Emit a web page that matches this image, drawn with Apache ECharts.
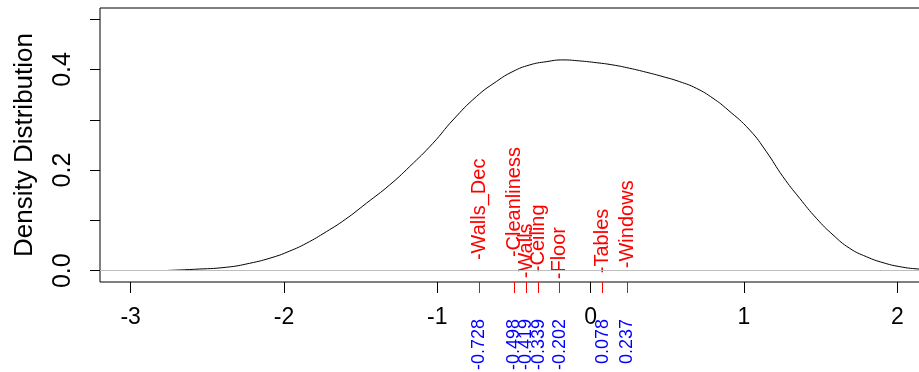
<!DOCTYPE html>
<html>
<head>
<meta charset="utf-8">
<script src="https://cdn.jsdelivr.net/npm/echarts@6/dist/echarts.min.js"></script>
<style>html,body{margin:0;padding:0;background:#fff}#c{width:919px;height:372px}</style>
</head>
<body>
<div id="c"></div>
<script>
// Density curve (x, density)
const densX = [-2.76, -2.583, -2.376, -2.224, -2.072, -1.963, -1.855, -1.724, -1.6, -1.463, -1.311, -1.181, -1.029, -0.898, -0.746, -0.615, -0.507, -0.398, -0.289, -0.181, -0.072, 0.037, 0.145, 0.254, 0.363, 0.472, 0.581, 0.689, 0.798, 0.896, 1.037, 1.146, 1.254, 1.363, 1.472, 1.581, 1.689, 1.798, 1.907, 2.016, 2.135, 2.3];
const densY = [0.0005, 0.0028, 0.0068, 0.0147, 0.0267, 0.039, 0.0543, 0.0775, 0.102, 0.134, 0.1704, 0.2068, 0.2532, 0.2996, 0.3459, 0.376, 0.396, 0.409, 0.4155, 0.419, 0.417, 0.4135, 0.409, 0.4024, 0.3945, 0.3857, 0.3757, 0.3626, 0.3427, 0.3194, 0.2797, 0.2366, 0.1869, 0.1439, 0.1042, 0.071, 0.0445, 0.0278, 0.0159, 0.008, 0.0034, 0.001];

// Annotated items
const itemNames = ['Walls_Dec', 'Cleanliness', 'Walls', 'Ceiling', 'Floor', 'Tables', 'Windows'];
const itemValues = [-0.728, -0.498, -0.419, -0.339, -0.202, 0.078, 0.237];
const itemLabelY = [0.021, 0.027, -0.015, -0.003, -0.017, -0.005, 0.005];

// Axis ticks
const xTicks = [-3, -2, -1, 0, 1, 2];
const yTicks = [0, 0.1, 0.2, 0.3, 0.4, 0.5];
const yLabels = [0, 0.2, 0.4];

const xMin = -3.2, xMax = 2.35, yMin = -0.0225, yMax = 0.5222;
const FONT = '"Liberation Sans", Arial, Helvetica, sans-serif';

const chart = echarts.init(document.getElementById('c'), null, {renderer: 'canvas'});
chart.setOption({
  animation: false,
  backgroundColor: '#fff',
  grid: {left: 100, right: -32, top: 8, bottom: 90, show: true, borderColor: '#000', borderWidth: 1, containLabel: false, outerBoundsMode: 'none'},
  xAxis: [{
    type: 'value', min: xMin, max: xMax, position: 'bottom',
    axisLine: {show: false, onZero: false},
    splitLine: {show: false},
    axisTick: {show: true, length: 11, inside: false, customValues: xTicks, lineStyle: {color: '#000', width: 1}},
    axisLabel: {customValues: xTicks, fontSize: 23, color: '#000', margin: 24, fontFamily: FONT, formatter: v => String(v)}
  }, {
    type: 'value', min: xMin, max: xMax, position: 'bottom',
    axisLine: {show: false, onZero: false},
    splitLine: {show: false},
    axisTick: {show: true, length: 11, inside: false, customValues: itemValues, lineStyle: {color: '#ff0000', width: 1}},
    axisLabel: {customValues: itemValues, rotate: 90, fontSize: 18, color: '#0000ff', margin: 37, fontFamily: FONT, hideOverlap: false, formatter: v => String(v)}
  }],
  yAxis: {
    type: 'value', min: yMin, max: yMax, position: 'left',
    name: 'Density Distribution', nameLocation: 'middle', nameGap: 62,
    nameTextStyle: {fontSize: 26, color: '#000', fontFamily: FONT},
    axisLine: {show: false, onZero: false},
    splitLine: {show: false},
    axisTick: {show: true, length: 10, customValues: yTicks, lineStyle: {color: '#000', width: 1}},
    axisLabel: {customValues: yLabels, rotate: 90, fontSize: 25, color: '#000', margin: 24, fontFamily: FONT, formatter: v => v.toFixed(1)}
  },
  series: [{
    type: 'line',
    xAxisIndex: 0,
    data: densX.map((x, i) => [x, densY[i]]),
    showSymbol: false,
    smooth: 0.5,
    lineStyle: {color: '#000', width: 1},
    silent: true,
    markLine: {
      silent: true, symbol: ['none', 'none'], label: {show: false},
      lineStyle: {color: '#bebebe', type: 'solid', width: 1},
      data: [{yAxis: 0}]
    }
  }, {
    type: 'custom',
    xAxisIndex: 0,
    clip: false,
    silent: true,
    data: itemValues.map((v, i) => [v, itemLabelY[i]]),
    renderItem: function (params, api) {
      const p = api.coord([api.value(0), api.value(1)]);
      return {
        type: 'text', x: p[0], y: p[1], rotation: Math.PI / 2,
        style: {text: '-' + itemNames[params.dataIndex], fill: '#ff0000', fontSize: 20, fontFamily: FONT, align: 'left', verticalAlign: 'middle'}
      };
    }
  }]
});
</script>
</body>
</html>
